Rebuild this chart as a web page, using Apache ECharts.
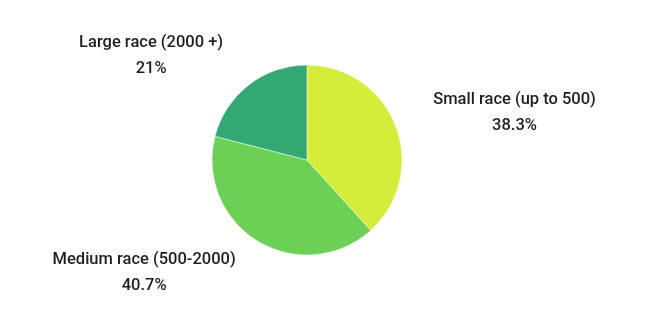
<!DOCTYPE html>
<html>
<head>
<meta charset="utf-8">
<script src="https://cdn.jsdelivr.net/npm/echarts@6/dist/echarts.min.js"></script>
<style>
html,body{margin:0;padding:0;background:#fff;}
#c{width:661px;height:333px;}
</style>
</head>
<body>
<div id="c"></div>
<script>
const categories = ["Small race (up to 500)", "Medium race (500-2000)", "Large race (2000 +)"];
const values = [38.3, 40.7, 21];
const colors = ["#d4ec3a", "#6bd055", "#33a873"];

const chart = echarts.init(document.getElementById('c'), null, {renderer: 'canvas'});
chart.setOption({
  backgroundColor: '#ffffff',
  animation: false,
  series: [{
    type: 'pie',
    center: [307, 160],
    radius: 95,
    startAngle: 90,
    clockwise: true,
    data: categories.map((n, i) => ({name: n, value: values[i], itemStyle: {color: colors[i]}})),
    itemStyle: {borderColor: '#ffffff', borderWidth: 0.5},
    label: {
      show: true,
      position: 'outside',
      formatter: p => p.name + '\n' + p.value + '%',
      fontFamily: 'Roboto',
      fontSize: 16.5,
      fontWeight: 500,
      lineHeight: 26,
      color: '#1e1e1e',
      distanceToLabelLine: 3
    },
    labelLine: {show: false, length: 37, length2: 0},
    labelLayout: function (p) {
      const r = p.labelRect;
      return {x: r.x + r.width / 2, y: r.y + r.height / 2, align: 'center', verticalAlign: 'middle'};
    },
    emphasis: {disabled: true}
  }]
});
</script>
</body>
</html>
